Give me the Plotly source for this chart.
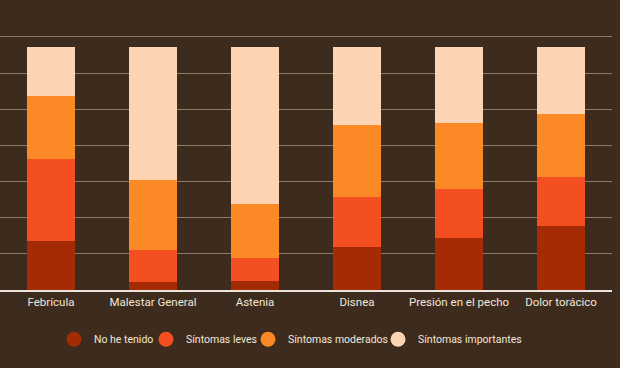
import plotly.graph_objects as go

categories = ["Febrícula", "Malestar General", "Astenia", "Disnea", "Presión en el pecho", "Dolor torácico"]
series_names = ["No he tenido", "Síntomas leves", "Síntomas moderados", "Síntomas importantes"]
no_he_tenido = [20.2, 3.4, 3.8, 17.8, 21.5, 26.3]
sintomas_leves = [33.7, 13.0, 9.2, 20.5, 20.0, 20.0]
sintomas_moderados = [26.1, 28.8, 22.2, 29.5, 27.4, 26.3]
sintomas_importantes = [19.9, 54.8, 64.8, 32.2, 31.1, 27.4]
colors = ["#a52b04", "#f44f20", "#fb8a26", "#fdd4b3"]

BG = "#3d2b1d"
TEXT = "#f1e6d8"

# legend entry positions (paper fraction of plot width, left edge of each entry)
legend_x = [54 / 612, 146 / 612, 248 / 612, 378 / 612]
legend_ids = ["legend", "legend2", "legend3", "legend4"]

fig = go.Figure()
for name, vals, col in zip(series_names,
                           [no_he_tenido, sintomas_leves, sintomas_moderados, sintomas_importantes],
                           colors):
    fig.add_trace(go.Bar(x=categories, y=vals, name=name, marker=dict(color=col, line=dict(width=0)),
                         showlegend=False, hoverinfo="x+y+name"))

for name, col, lid in zip(series_names, colors, legend_ids):
    fig.add_trace(go.Scatter(x=[None], y=[None], mode="markers", name=name, legend=lid,
                             marker=dict(symbol="circle", size=15, color=col), showlegend=True))

legend_common = dict(orientation="h", xanchor="left", y=-0.193, yanchor="middle",
                     font=dict(size=10.5, color=TEXT), bgcolor="rgba(0,0,0,0)", itemwidth=30)

fig.update_layout(
    width=620, height=368,
    barmode="stack", bargap=0.536,
    paper_bgcolor=BG, plot_bgcolor=BG,
    margin=dict(l=0, r=8, t=35, b=78),
    font=dict(family="Roboto, sans-serif", size=11, color=TEXT),
    xaxis=dict(showline=True, linecolor="#ece4da", linewidth=2, showgrid=False, ticks="",
               tickfont=dict(size=11.5, color=TEXT), fixedrange=True),
    yaxis=dict(range=[0, 104.94], dtick=14.875, tick0=0, showticklabels=False, showgrid=True,
               gridcolor="#8a7968", gridwidth=1, zeroline=False, fixedrange=True),
    legend=dict(x=legend_x[0], **legend_common),
    legend2=dict(x=legend_x[1], **legend_common),
    legend3=dict(x=legend_x[2], **legend_common),
    legend4=dict(x=legend_x[3], **legend_common),
)

fig.write_html("out.html", config={"displayModeBar": False},
               post_script="document.body.style.margin='0';")
